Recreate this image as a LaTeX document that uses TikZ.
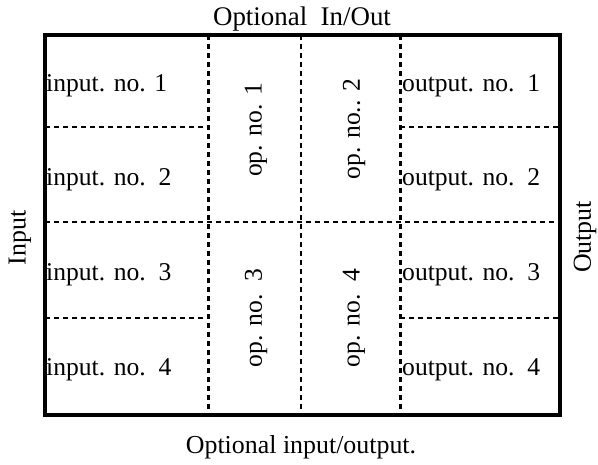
\documentclass[tikz,border=0pt]{standalone}
\usepackage{fontspec}
\setmainfont{Liberation Serif}
\begin{document}
\begin{tikzpicture}[x=1bp,y=-1bp,
  frame/.style={line width=4bp},
  colsep/.style={line width=3bp, dash pattern=on 5bp off 4bp},
  rowsep/.style={line width=1.5bp, dash pattern=on 5bp off 4bp},
  cell/.style={font=\fontsize{25.7}{28}\selectfont, anchor=west, inner sep=0pt},
  oplabel/.style={font=\fontsize{25.7}{28}\selectfont, rotate=90, inner sep=0pt},
  side/.style={font=\fontsize{26}{29}\selectfont, inner sep=0pt}]
\useasboundingbox (0,0) rectangle (598,465);
% corners of the frame
\coordinate (tl) at (45,35);
\coordinate (br) at (560,415);
% column separators
\draw[colsep] (208,35) -- (208,415);
\draw[colsep, line width=2.5bp] (301,35) -- (301,415);
\draw[colsep] (400,35) -- (400,415);
% row separators
\draw[rowsep] (45,127) -- (208,127);
\draw[rowsep] (400,127) -- (560,127);
\draw[rowsep] (45,222) -- (560,222);
\draw[rowsep] (45,318) -- (208,318);
\draw[rowsep] (400,318) -- (560,318);
% outer frame
\draw[frame] (tl) rectangle (br);
% input cells
\node[cell] (in1) at (46,86) {input. no. 1};
\node[cell] (in2) at (46,180) {input. no.\ \ 2};
\node[cell] (in3) at (46,275) {input. no.\ \ 3};
\node[cell] (in4) at (46,370) {input. no.\ \ 4};
% output cells
\node[cell] (out1) at (402,86) {output. no.\ \ 1};
\node[cell] (out2) at (402,180) {output. no.\ \ 2};
\node[cell] (out3) at (402,275) {output. no.\ \ 3};
\node[cell] (out4) at (402,370) {output. no.\ \ 4};
% operation cells
\node[oplabel] (op1) at (256,130) {op. no. 1};
\node[oplabel] (op2) at (354,129) {op. no.. 2};
\node[oplabel] (op3) at (256,318) {op. no.\ \ 3};
\node[oplabel] (op4) at (354,318) {op. no.\ \ 4};
% side labels
\node[side, font=\fontsize{27}{30}\selectfont] (top) at (302,19) {Optional\ \ In/Out};
\node[side] (bottom) at (301,447) {Optional input/output.};
\node[side, rotate=90] (left) at (20,238) {Input};
\node[side, rotate=90] (right) at (585,237) {Output};
\end{tikzpicture}
\end{document}
